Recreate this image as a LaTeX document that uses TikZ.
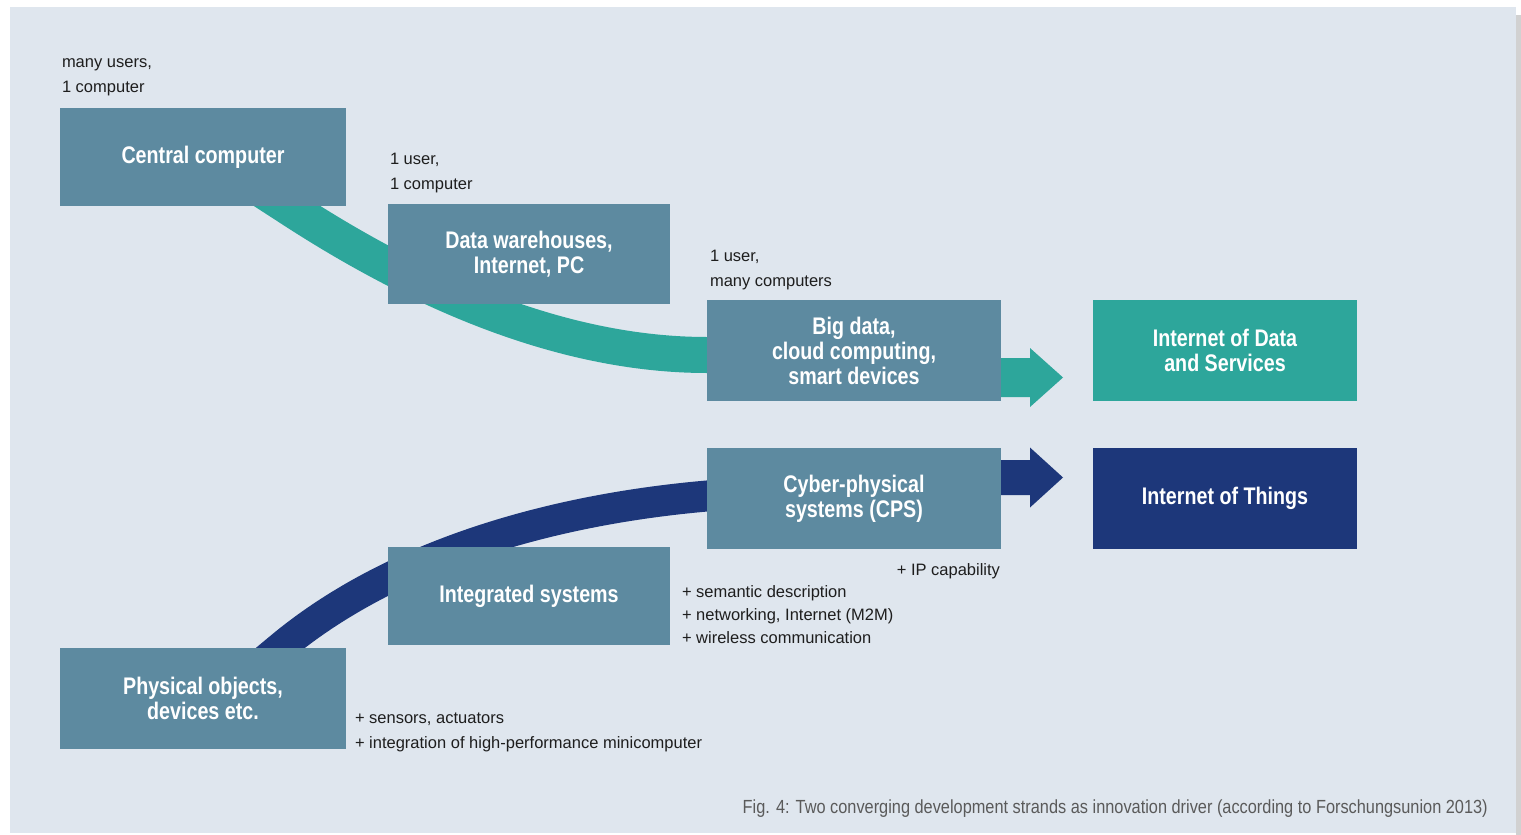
\documentclass[tikz,border=0pt]{standalone}
\usepackage{fontspec}
\setmainfont{Liberation Sans}
\newfontfamily\boxfont[FakeStretch=0.82]{Liberation Sans}
\newfontfamily\capfont[FakeStretch=0.86]{Liberation Sans}
\usetikzlibrary{backgrounds}

\definecolor{panel}{HTML}{DFE6EE}
\definecolor{steel}{HTML}{5D8AA0}
\definecolor{tealband}{HTML}{2DA69B}
\definecolor{navyband}{HTML}{1D377A}
\definecolor{notetext}{HTML}{1E1E1E}
\definecolor{captext}{HTML}{5A5A5A}

\tikzset{
  stage/.style={fill=steel, text=white, inner sep=0pt, outer sep=0pt,
    align=center, font=\boxfont\bfseries\fontsize{24}{25}\selectfont},
  goal/.style={stage},
  note/.style={text=notetext, inner sep=0pt, outer sep=0pt,
    font=\fontsize{16.5}{25}\selectfont},
  band/.style={line width=#1, line cap=butt},
}

\begin{document}
\begin{tikzpicture}[x=1pt, y=-1pt]
\useasboundingbox (0,0) rectangle (1521,835);

% stages of the two strands
\node[stage, minimum width=286pt, minimum height=98pt]  (cc)  at (203,157)   {Central computer};
\node[stage, minimum width=282pt, minimum height=100pt] (dw)  at (529,254)   {Data warehouses,\\Internet, PC};
\node[stage, minimum width=294pt, minimum height=101pt] (bd)  at (854,350.5) {Big data,\\cloud computing,\\smart devices};
\node[goal, fill=tealband, minimum width=264pt, minimum height=101pt] (ids) at (1225,350.5) {Internet of Data\\and Services};
\node[stage, minimum width=294pt, minimum height=101pt] (cps) at (854,498.5) {Cyber-physical\\systems (CPS)};
\node[goal, fill=navyband, minimum width=264pt, minimum height=101pt] (iot) at (1225,498.5) {Internet of Things};
\node[stage, minimum width=282pt, minimum height=98pt]  (is)  at (529,596)   {Integrated systems};
\node[stage, minimum width=286pt, minimum height=101pt] (po)  at (203,698.5) {Physical objects,\\devices etc.};

\begin{pgfonlayer}{background}
  % page and panel
  \fill[white] (0,0) rectangle (1521,835);
  \fill[panel] (10,7) rectangle (1516,833);
  \fill[black!18] (1516,15) rectangle (1521,835);
  % upper strand
  \draw[band=36pt, tealband]
    ([xshift=58.8pt, yshift=16.3pt]cc.south) -- ([xshift=84pt]cc.south)
    .. controls +(113,74) and +(-157,0) .. ([yshift=-4.5pt]bd.west)
    -- ([xshift=30pt, yshift=-4.5pt]bd.west);
  % lower strand
  \draw[band=31pt, navyband]
    ([xshift=61.6pt, yshift=-12.8pt]po.north) -- ([xshift=77pt]po.north)
    .. controls +(115,-96) and +(-149,13) .. ([yshift=2.5pt]cps.west)
    -- ([xshift=30pt, yshift=5.1pt]cps.west);
\end{pgfonlayer}

% arrows towards the two internets
\fill[tealband] ([yshift=-27pt]bd.east) -- ++(0,-19.5) -- ++(29,0) -- ++(0,-10)
  -- ++(33,29.5) -- ++(-33,29.5) -- ++(0,-10) -- ++(-29,0) -- cycle;
\fill[navyband] ([yshift=21pt]cps.east) -- ++(0,-17.5) -- ++(29,0) -- ++(0,-12.5)
  -- ++(33,30) -- ++(-33,30) -- ++(0,-12.5) -- ++(-29,0) -- cycle;

% annotations
\node[note, anchor=north west, align=left] (u1) at (62,49.5)   {\strut many users,\\1 computer};
\node[note, anchor=north west, align=left] (u2) at (390,146.5) {\strut 1 user,\\1 computer};
\node[note, anchor=north west, align=left] (u3) at (710,243.5) {\strut 1 user,\\many computers};
\node[note, anchor=north east, align=right] (a1) at (1000,557.5) {\strut + IP capability};
\node[note, anchor=north west, align=left, font=\fontsize{16.5}{23}\selectfont] (a2) at (682,581) {\strut + semantic description\\+ networking, Internet (M2M)\\+ wireless communication};
\node[note, anchor=north west, align=left] (a3) at (355,705.5) {\strut + sensors, actuators\\+ integration of high-performance minicomputer};

% caption
\node[text=captext, inner sep=0pt, anchor=base east, font=\capfont\fontsize{19}{22}\selectfont] (cap) at (1488,813)
  {Fig. 4: Two converging development strands as innovation driver (according to Forschungsunion 2013)};
\end{tikzpicture}
\end{document}
